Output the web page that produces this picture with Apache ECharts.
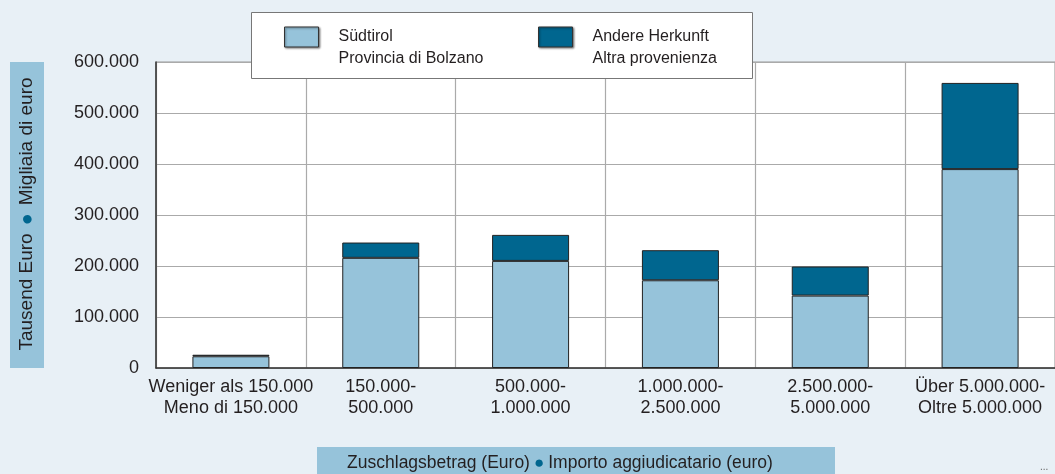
<!DOCTYPE html>
<html>
<head>
<meta charset="utf-8">
<script src="https://cdn.jsdelivr.net/npm/echarts@6/dist/echarts.min.js"></script>
<style>
  html, body { margin: 0; padding: 0; background: #e8f0f6; }
  #chart { width: 1055px; height: 474px; }
</style>
</head>
<body>
<div id="chart"></div>
<script>
// Zuschlagsbetrag nach Herkunft (Tausend Euro)
var categories = [
  'Weniger als 150.000\nMeno di 150.000',
  '150.000-\n500.000',
  '500.000-\n1.000.000',
  '1.000.000-\n2.500.000',
  '2.500.000-\n5.000.000',
  'Über 5.000.000-\nOltre 5.000.000'
];
var suedtirol = [23000, 216000, 210000, 172000, 142000, 390000];
var andere = [3000, 30000, 51000, 59000, 57000, 169000];
var seriesNames = ['Südtirol\nProvincia di Bolzano', 'Andere Herkunft\nAltra provenienza'];

var lightBlue = '#96c3da';
var darkBlue = '#00668f';
var textColor = '#231f20';
var font = 'Liberation Sans, Arial, sans-serif';

function fmt(v) {
  return String(v).replace(/\B(?=(\d{3})+(?!\d))/g, '.');
}

var chart = echarts.init(document.getElementById('chart'));

var legendCommon = {
  orient: 'horizontal',
  top: 10,
  padding: 0,
  z: 10,
  icon: 'rect',
  itemWidth: 34,
  itemHeight: 20,
  itemStyle: {
    borderColor: '#333',
    borderWidth: 1,
    shadowColor: 'rgba(0,0,0,0.45)',
    shadowBlur: 2,
    shadowOffsetX: 1,
    shadowOffsetY: 1
  },
  // empty first line pushes the two text lines down next to the swatch
  formatter: function (name) {
    var parts = name.split('\n');
    return '{s| }\n{b|' + parts[0] + '}\n{b|' + parts[1] + '}';
  },
  textStyle: {
    fontFamily: font,
    fontSize: 16,
    color: textColor,
    padding: [0, 0, 0, 15],
    rich: {
      s: { fontSize: 10, lineHeight: 22 },
      b: { fontFamily: font, fontSize: 16, lineHeight: 22, color: textColor }
    }
  },
  selectedMode: false
};

var option = {
  backgroundColor: '#e8f0f6',
  animation: false,
  textStyle: { fontFamily: font },
  grid: {
    left: 156,
    top: 62,
    width: 909,
    height: 306,
    show: true,
    backgroundColor: '#ffffff',
    borderColor: '#999',
    borderWidth: 1
  },
  legend: [
    Object.assign({}, legendCommon, { left: 284, data: [seriesNames[0]] }),
    Object.assign({}, legendCommon, { left: 538, data: [seriesNames[1]] })
  ],
  xAxis: {
    type: 'category',
    data: categories,
    axisLine: { lineStyle: { color: '#333', width: 1.5 } },
    axisTick: { show: false },
    splitLine: { show: true, interval: 0, lineStyle: { color: '#aaa', width: 1.2 } },
    axisLabel: {
      interval: 0,
      margin: 9,
      fontSize: 18,
      lineHeight: 21,
      color: textColor,
      fontFamily: font
    }
  },
  yAxis: {
    type: 'value',
    min: 0,
    max: 600000,
    interval: 100000,
    axisLine: { show: true, lineStyle: { color: '#333', width: 1.5 } },
    axisTick: { show: false },
    splitLine: { lineStyle: { color: '#aaa', width: 1.2 } },
    axisLabel: {
      margin: 17,
      fontSize: 18,
      color: textColor,
      fontFamily: font,
      formatter: function (v) { return fmt(v); }
    }
  },
  series: [
    {
      name: seriesNames[0],
      type: 'bar',
      stack: 'total',
      barWidth: 77,
      data: suedtirol,
      itemStyle: { color: lightBlue, borderColor: '#222', borderWidth: 1 }
    },
    {
      name: seriesNames[1],
      type: 'bar',
      stack: 'total',
      barWidth: 77,
      data: andere,
      itemStyle: { color: darkBlue, borderColor: '#222', borderWidth: 1 }
    }
  ],
  graphic: [
    // legend frame
    {
      type: 'rect',
      z: 5,
      shape: { x: 251.5, y: 12.5, width: 501, height: 66 },
      style: { fill: '#fff', stroke: '#777', lineWidth: 1 }
    },
    // y axis title box
    {
      type: 'rect',
      shape: { x: 10, y: 62, width: 34, height: 306 },
      style: { fill: lightBlue }
    },
    {
      type: 'text',
      x: 27,
      y: 214,
      rotation: Math.PI / 2,
      style: {
        text: '{t|Tausend Euro}{d|●}{t|Migliaia di euro}',
        align: 'center',
        verticalAlign: 'middle',
        rich: {
          t: { fontFamily: font, fontSize: 19, fill: textColor },
          d: { fontFamily: font, fontSize: 20, fill: darkBlue, padding: [0, 8, 0, 8] }
        }
      }
    },
    // x axis title box
    {
      type: 'rect',
      shape: { x: 317, y: 447, width: 518, height: 27 },
      style: { fill: lightBlue }
    },
    {
      type: 'text',
      x: 560,
      y: 463,
      style: {
        text: '{t|Zuschlagsbetrag (Euro)}{d|●}{t|Importo aggiudicatario (euro)}',
        align: 'center',
        verticalAlign: 'middle',
        rich: {
          t: { fontFamily: font, fontSize: 17.5, fill: textColor },
          d: { fontFamily: font, fontSize: 17, fill: darkBlue, padding: [0, 4, 0, 4] }
        }
      }
    },
    {
      type: 'text',
      x: 1040,
      y: 462,
      style: { text: '...', fontFamily: font, fontSize: 10, fill: '#666' }
    }
  ]
};

chart.setOption(option);
</script>
</body>
</html>
